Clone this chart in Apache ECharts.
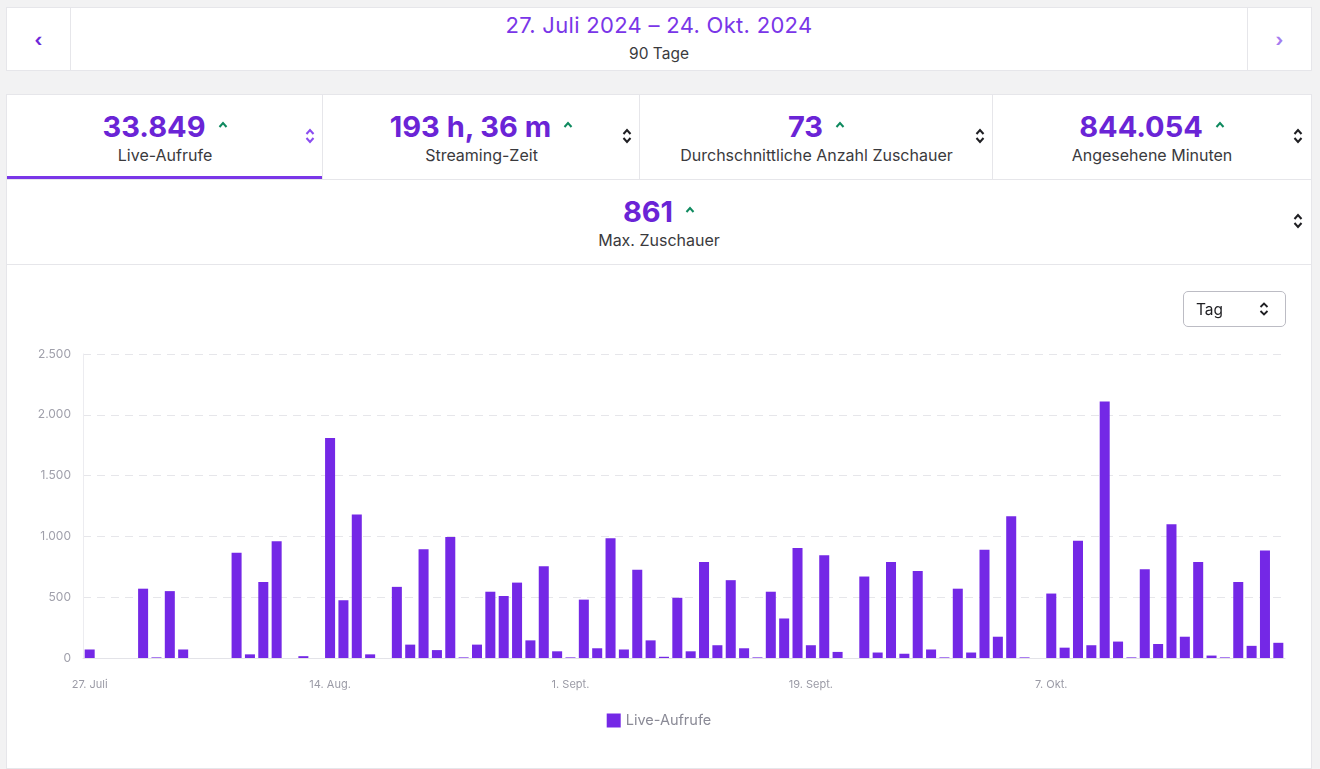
<!DOCTYPE html>
<html>
<head>
<meta charset="utf-8">
<script src="https://cdn.jsdelivr.net/npm/echarts@6/dist/echarts.min.js"></script>
<style>
  body { margin: 0; background: #f2f2f3; font-family: Inter, "Noto Sans", sans-serif; width: 1320px; height: 769px; position: relative; overflow: hidden; }
  .card { position: absolute; background: #fff; box-shadow: 0 0 0 1px #e6e6ea; }
  .range { left: 7px; top: 8px; width: 1304px; height: 62px; }
  .nav { position: absolute; top: 0; width: 63px; height: 62px; display: flex; align-items: center; justify-content: center; font-weight: 700; font-size: 18px; }
  .nav.l { left: 0; border-right: 1px solid #e6e6ea; color: #6d28d9; }
  .nav.r { right: 0; border-left: 1px solid #e6e6ea; color: #a57cf0; }
  .date { position: absolute; left: 0; right: 0; top: 4px; text-align: center; color: #7a36e8; font-size: 22px; letter-spacing: 0.3px; }
  .days { position: absolute; left: 0; right: 0; top: 36px; text-align: center; color: #3a3a3d; font-size: 15.5px; }
  .stat { position: absolute; background: #fff; box-shadow: 0 0 0 1px #e6e6ea; text-align: center; }
  .num { font-size: 29px; font-weight: 700; color: #6a24d6; margin-top: 14px; letter-spacing: 0px; }
  .num svg { margin-left: 12px; vertical-align: 9px; }
  .lbl { font-size: 16px; color: #3a3a3d; margin-top: 1px; }
  .sort { position: absolute; right: 8px; top: 32px; }
  .active { position: absolute; left: 0; bottom: 0; width: 100%; height: 4px; background: #7a36e8; }
  .chartcard { left: 7px; top: 265px; width: 1304px; height: 503px; }
  .sel { position: absolute; left: 1176px; top: 26px; width: 103px; height: 36px; border: 1px solid #bcbcc4; border-radius: 5px; box-sizing: border-box; font-size: 15.5px; color: #1f1f23; }
  .sel span { position: absolute; left: 12px; top: 8px; }
  .sel svg { position: absolute; right: 16px; top: 9px; }
  #chart { position: absolute; left: 0; top: 0; width: 1304px; height: 503px; }
</style>
</head>
<body>
<div class="card range">
  <div class="nav l">&#8249;</div>
  <div class="date">27. Juli 2024 – 24. Okt. 2024</div>
  <div class="days">90 Tage</div>
  <div class="nav r">&#8250;</div>
</div>

<div id="stats"></div>

<div class="card chartcard">
  <div id="chart"></div>
  <div class="sel"><span>Tag</span>
    <svg width="10" height="16" viewBox="0 0 10 16"><path d="M1.5 6 L5 2.5 L8.5 6 M1.5 10 L5 13.5 L8.5 10" fill="none" stroke="#1f1f23" stroke-width="1.8"/></svg>
  </div>
</div>

<script>
// Kennzahlen oben
var statValues = ['33.849', '193 h, 36 m', '73', '844.054', '861'];
var statLabels = ['Live-Aufrufe', 'Streaming-Zeit', 'Durchschnittliche Anzahl Zuschauer', 'Angesehene Minuten', 'Max. Zuschauer'];

// Tageswerte Live-Aufrufe, 27. Juli 2024 - 24. Okt. 2024
var startDay = 27;
var monthNames = ['Juli', 'Aug.', 'Sept.', 'Okt.'];
var monthLengths = [31, 31, 30, 31];
var liveViews = [
  70, 0, 0, 0, 570, 5, 550, 70, 0, 0,
  0, 865, 30, 625, 960, 0, 15, 0, 1810, 475,
  1180, 30, 0, 585, 110, 895, 65, 995, 5, 110,
  545, 510, 620, 145, 755, 55, 5, 480, 80, 985,
  70, 725, 145, 10, 495, 55, 790, 105, 640, 80,
  5, 545, 325, 905, 105, 845, 50, 0, 670, 45,
  790, 35, 715, 70, 5, 570, 45, 890, 175, 1165,
  5, 0, 530, 85, 965, 105, 2110, 135, 5, 730,
  115, 1100, 175, 790, 20, 5, 625, 100, 885, 125
];
var yTicks = { min: 0, max: 2500, interval: 500 };

var days = [];
var m = 0, d = startDay;
for (var i = 0; i < liveViews.length; i++) {
  days.push(d + '. ' + monthNames[m]);
  d++;
  if (d > monthLengths[m]) { d = 1; m++; }
}

// Kacheln bauen
var caret = '<svg width="10" height="7" viewBox="0 0 10 7"><path d="M1.5 6 L5 2 L8.5 6" fill="none" stroke="#0f8a5f" stroke-width="2"/></svg>';
function sortIcon(c) {
  return '<svg class="sort" width="10" height="18" viewBox="0 0 10 18"><path d="M1.5 7 L5 3 L8.5 7 M1.5 11 L5 15 L8.5 11" fill="none" stroke="' + c + '" stroke-width="2"/></svg>';
}
var boxes = [[7, 95, 316, 85], [323, 95, 317, 85], [640, 95, 353, 85], [993, 95, 318, 85], [7, 180, 1304, 85]];
var html = '';
for (var k = 0; k < boxes.length; k++) {
  var b = boxes[k];
  html += '<div class="stat" style="left:' + b[0] + 'px;top:' + b[1] + 'px;width:' + b[2] + 'px;height:' + b[3] + 'px">' +
    '<div class="num">' + statValues[k] + caret + '</div>' +
    '<div class="lbl">' + statLabels[k] + '</div>' +
    sortIcon(k === 0 ? '#8b4cf0' : '#1f1f23') +
    (k === 0 ? '<div class="active"></div>' : '') + '</div>';
}
document.getElementById('stats').innerHTML = html;

var chart = echarts.init(document.getElementById('chart'));
chart.setOption({
  animation: false,
  grid: { left: 76, right: 26, top: 89, bottom: 110 },
  legend: {
    data: ['Live-Aufrufe'],
    bottom: 35,
    left: 'center',
    icon: 'rect',
    itemWidth: 14,
    itemHeight: 14,
    itemGap: 8,
    textStyle: { color: '#8a8a96', fontSize: 14.5, fontFamily: 'Inter' }
  },
  xAxis: {
    type: 'category',
    data: days,
    axisTick: { show: false },
    axisLine: { lineStyle: { color: '#e3e3e8' } },
    axisLabel: { interval: 17, color: '#9b9ba6', fontSize: 11, margin: 21, fontFamily: 'Inter' }
  },
  yAxis: {
    type: 'value',
    min: yTicks.min,
    max: yTicks.max,
    interval: yTicks.interval,
    axisLine: { show: true, lineStyle: { color: '#ececf0' } },
    axisTick: { show: false },
    axisLabel: {
      color: '#a0a0ab', fontSize: 12, margin: 12, fontFamily: 'Inter',
      formatter: function (v) { return v >= 1000 ? (v / 1000).toFixed(3) : String(v); }
    },
    splitLine: { lineStyle: { color: '#e6e6ea', type: [8, 6] } }
  },
  series: [{
    name: 'Live-Aufrufe',
    type: 'bar',
    data: liveViews,
    barCategoryGap: '25%',
    itemStyle: { color: '#7428e6' }
  }]
});
</script>
</body>
</html>
